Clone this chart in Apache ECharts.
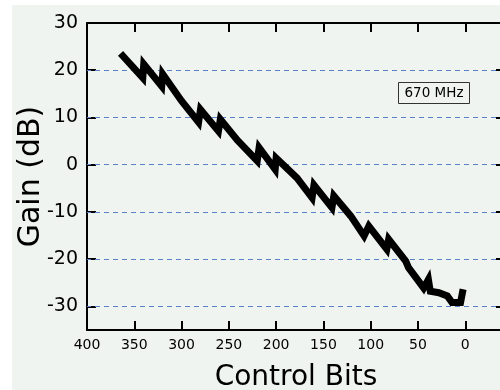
<!DOCTYPE html>
<html>
<head>
<meta charset="utf-8">
<script src="https://cdn.jsdelivr.net/npm/echarts@6/dist/echarts.min.js"></script>
<style>
  html, body { margin: 0; padding: 0; background: #fff; }
  #chart { width: 500px; height: 390px; }
</style>
</head>
<body>
<div id="chart"></div>
<script>
// values (control bits -> gain in dB)
const bits = [362, 341, 340, 321, 320, 300, 282, 280, 261, 259, 241, 220, 218, 201, 200, 178, 162, 160, 141, 139, 121, 107, 102, 83, 81, 63, 60, 44, 39, 37, 28, 19, 14, 5, 3]
const gain = [23.0, 18.4, 21.3, 16.6, 19.2, 13.5, 9.0, 11.7, 7.1, 9.6, 5.2, 0.8, 3.6, -1.0, 1.4, -2.8, -7.0, -4.3, -9.1, -6.6, -10.9, -15.1, -13.0, -17.9, -15.8, -20.4, -21.8, -26.1, -24.3, -26.8, -27.1, -27.8, -29.2, -29.2, -27.1]
const xTicks = [400, 350, 300, 250, 200, 150, 100, 50, 0]
const yTicks = [30, 20, 10, 0, -10, -20, -30]
const gridLines = [20, 10, 0, -10, -20, -30]
const noteText = '670 MHz'

const font = 'DejaVu Sans'
const bg = '#f0f4f0'

const chart = echarts.init(document.getElementById('chart'))

const tick = (values) => ({
  show: true,
  inside: true,
  length: 9,
  customValues: values,
  lineStyle: { color: '#000', width: 2 },
})
const axisLine = { show: true, onZero: false, lineStyle: { color: '#000', width: 2 } }

let options = {
  animation: false,
  backgroundColor: '#fff',
  graphic: [
    {
      type: 'rect',
      z: -10,
      shape: { x: 12, y: 5, width: 488, height: 385 },
      style: { fill: bg },
    },
    {
      type: 'group',
      left: 398,
      top: 82,
      z: 50,
      children: [
        {
          type: 'rect',
          shape: { x: 0, y: 0, width: 71, height: 21 },
          style: { fill: bg, stroke: '#333', lineWidth: 1 },
        },
        {
          type: 'text',
          x: 35.5,
          y: 11,
          style: {
            text: noteText,
            font: '13.5px "DejaVu Sans"',
            fill: '#000',
            align: 'center',
            verticalAlign: 'middle',
          },
        },
      ],
    },
  ],
  grid: { left: 87, right: -5, top: 23, bottom: 60, containLabel: false, outerBoundsMode: 'none' },
  xAxis: [
    {
      type: 'value',
      min: -42,
      max: 400,
      inverse: true,
      position: 'bottom',
      name: 'Control Bits',
      nameLocation: 'middle',
      nameGap: 34,
      nameTextStyle: { fontFamily: font, fontSize: 28, color: '#000' },
      axisLine: axisLine,
      axisTick: tick(xTicks),
      axisLabel: {
        customValues: xTicks,
        showMinLabel: true,
        showMaxLabel: true,
        margin: 8,
        fontFamily: font,
        fontSize: 14,
        color: '#000',
      },
      splitLine: { show: false },
    },
    {
      type: 'value',
      min: -42,
      max: 400,
      inverse: true,
      position: 'top',
      axisLine: axisLine,
      axisTick: tick(xTicks),
      axisLabel: { show: false },
      splitLine: { show: false },
    },
  ],
  yAxis: [
    {
      type: 'value',
      min: -35,
      max: 30,
      position: 'left',
      name: 'Gain (dB)',
      nameLocation: 'middle',
      nameGap: 41,
      nameMoveOverlap: false,
      nameTextStyle: { fontFamily: font, fontSize: 30, color: '#000' },
      axisLine: axisLine,
      axisTick: tick(yTicks),
      axisLabel: {
        customValues: yTicks,
        showMinLabel: true,
        showMaxLabel: true,
        margin: 9,
        fontFamily: font,
        fontSize: 19,
        color: '#000',
      },
      splitLine: { show: false },
    },
    {
      type: 'value',
      min: -35,
      max: 30,
      position: 'right',
      axisLine: axisLine,
      axisTick: tick(yTicks),
      axisLabel: { show: false },
      splitLine: { show: false },
    },
  ],
  series: [
    {
      type: 'line',
      data: bits.map((b, i) => [b, gain[i]]),
      showSymbol: false,
      symbol: 'none',
      lineStyle: { color: '#000', width: 7, cap: 'square', join: 'miter' },
      z: 5,
      markLine: {
        silent: true,
        symbol: 'none',
        label: { show: false },
        z: 1,
        lineStyle: { color: '#5a80c8', width: 1, type: [5, 4] },
        data: gridLines.map((v) => ({ yAxis: v })),
      },
    },
  ],
}
options && chart.setOption(options)
</script>
</body>
</html>
